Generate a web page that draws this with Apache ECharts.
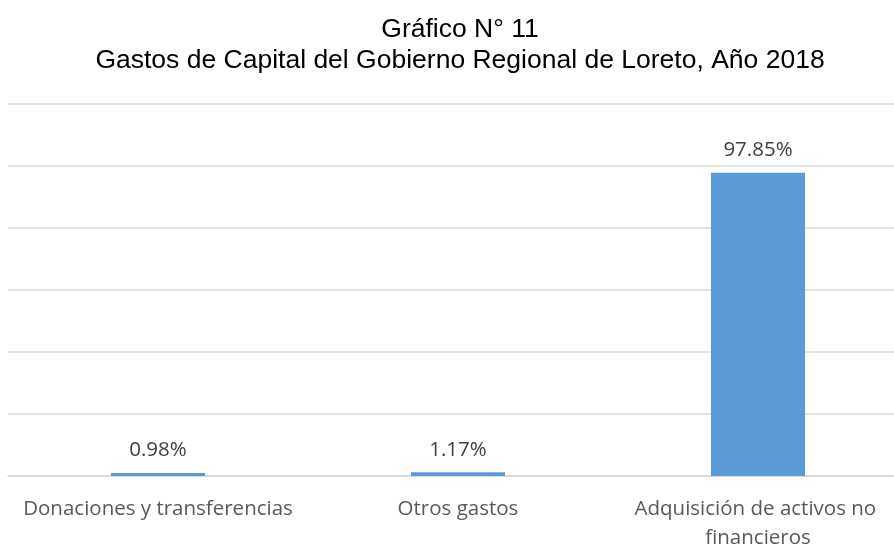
<!DOCTYPE html>
<html><head><meta charset="utf-8">
<script src="https://cdn.jsdelivr.net/npm/echarts@6/dist/echarts.min.js"></script>
<style>html,body{margin:0;padding:0;background:#fff}#c{width:894px;height:544px}</style>
</head><body><div id="c"></div>
<script>
const categories = ['Donaciones y transferencias', 'Otros gastos', 'Adquisición de activos no financieros'];
const values = [0.98, 1.17, 97.85];
const labels = ['0.98%', '1.17%', '97.85%'];
const titleText = 'Gráfico N° 11\nGastos de Capital del Gobierno Regional de Loreto, Año 2018';

const chart = echarts.init(document.getElementById('c'), null, {renderer: 'canvas'});
chart.setOption({
  animation: false,
  title: {
    text: titleText, left: 455, textAlign: 'center', top: 9,
    textStyle: {fontFamily: 'Liberation Sans', fontSize: 26.5, fontWeight: 'normal', color: '#000', lineHeight: 31}
  },
  grid: {left: 8, top: 104, width: 900, height: 372, containLabel: false, outerBoundsMode: 'none'},
  xAxis: {
    type: 'category', data: categories,
    axisLine: {lineStyle: {color: '#D9D9D9', width: 1.5}},
    axisTick: {show: false},
    axisLabel: {
      interval: 0, margin: 19, color: '#595959', fontFamily: 'Open Sans', fontSize: 20.5,
      lineHeight: 29, width: 290, overflow: 'break'
    }
  },
  yAxis: {
    type: 'value', min: 0, max: 120, interval: 20,
    axisLabel: {show: false}, axisLine: {show: false}, axisTick: {show: false},
    splitLine: {lineStyle: {color: '#D9D9D9', width: 1.5}}
  },
  series: [{
    type: 'bar', data: values, barWidth: 94,
    itemStyle: {color: '#5B9BD5'},
    label: {
      show: true, position: 'top', distance: 12,
      color: '#404040', fontFamily: 'Open Sans', fontSize: 20.5,
      formatter: p => labels[p.dataIndex]
    }
  }]
});
</script></body></html>
